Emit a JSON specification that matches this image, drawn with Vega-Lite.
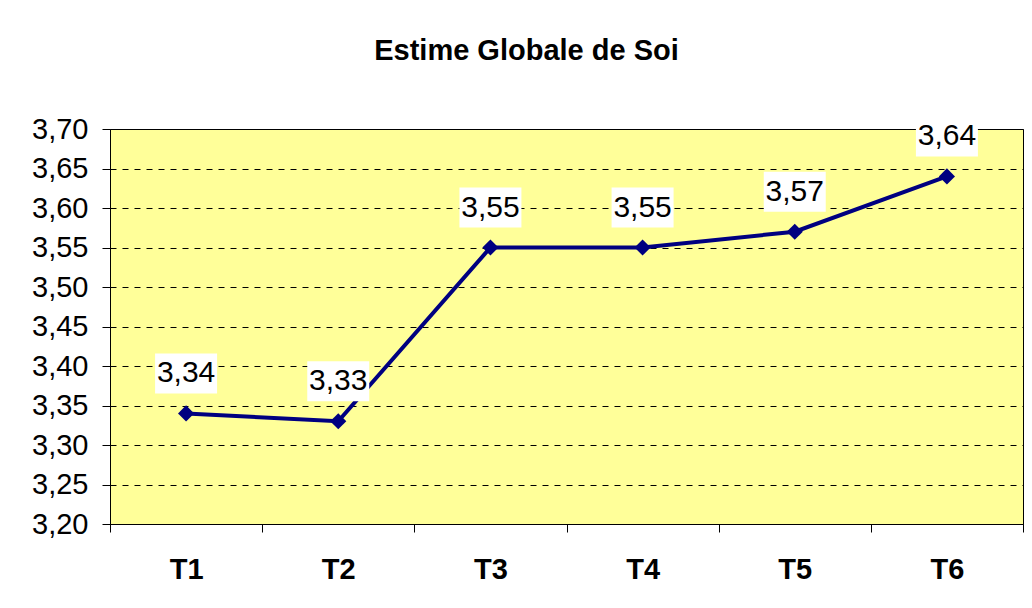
{
  "$schema": "https://vega.github.io/schema/vega-lite/v6.json",
  "autosize": {"type": "none"},
  "padding": {"left": 110, "top": 129, "right": 9, "bottom": 84},
  "width": 913,
  "height": 395,
  "background": "white",
  "title": {"text": "Estime Globale de Soi", "font": "Liberation Sans", "fontSize": 29, "fontWeight": "bold", "color": "black", "anchor": "middle", "frame": "group", "dx": -40, "offset": 49},
  "config": {
    "view": {"fill": "#FFFF99", "stroke": "#000000", "strokeWidth": 1},
    "locale": {"number": {"decimal": ",", "thousands": " ", "grouping": [3], "currency": ["", " €"]}}
  },
  "data": {"values": [
    {"t": "T1", "v": 3.34},
    {"t": "T2", "v": 3.33},
    {"t": "T3", "v": 3.55},
    {"t": "T4", "v": 3.55},
    {"t": "T5", "v": 3.57},
    {"t": "T6", "v": 3.64}
  ]},
  "encoding": {
    "x": {"field": "t", "type": "nominal", "scale": {"paddingInner": 0, "paddingOuter": 0},
      "axis": {"title": null, "labelAngle": 0, "tickBand": "extent", "labelFont": "Liberation Sans", "labelFontSize": 29, "labelFontWeight": "bold", "labelColor": "black", "labelPadding": 23, "tickSize": 8, "tickColor": "black", "domainColor": "black", "grid": false}},
    "y": {"field": "v", "type": "quantitative", "scale": {"domain": [3.2, 3.7], "nice": false, "zero": false},
      "axis": {"title": null, "values": [3.2, 3.25, 3.3, 3.35, 3.4, 3.45, 3.5, 3.55, 3.6, 3.65, 3.7], "format": ".2f", "labelFont": "Liberation Sans", "labelFontSize": 29, "labelColor": "black", "labelPadding": 14, "tickSize": 8, "tickColor": "black", "domainColor": "black", "grid": true, "gridColor": "black", "gridDash": [6, 6], "gridOpacity": 1}}
  },
  "layer": [
    {"mark": {"type": "line", "color": "#000080", "strokeWidth": 4}},
    {"mark": {"type": "point", "shape": "diamond", "filled": true, "color": "#000080", "opacity": 1, "size": 260}},
    {"mark": {"type": "point", "shape": "M-1,-0.645L1,-0.645L1,0.645L-1,0.645Z", "filled": true, "color": "white", "opacity": 1, "size": 3844, "yOffset": -40}},
    {"mark": {"type": "text", "font": "Liberation Sans", "fontSize": 30, "color": "black", "yOffset": -40, "baseline": "middle", "align": "center"},
      "encoding": {"text": {"field": "v", "type": "quantitative", "format": ".2f"}}}
  ]
}
